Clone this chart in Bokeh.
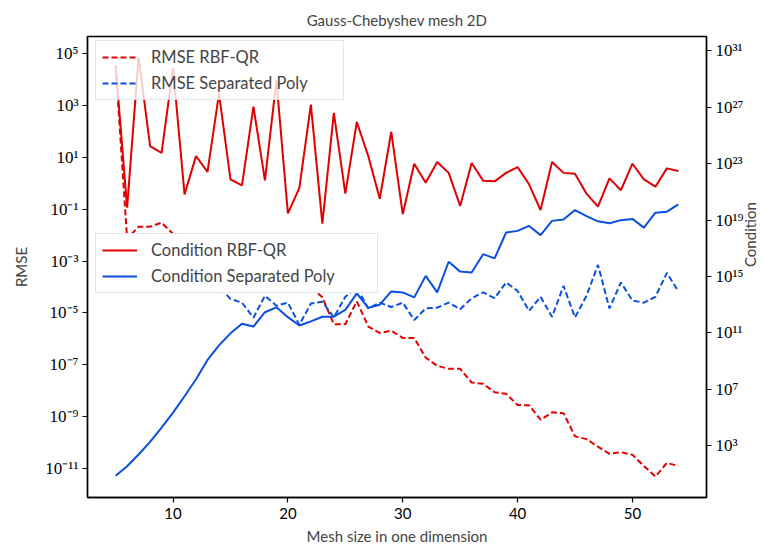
import math
from bokeh.plotting import figure
from bokeh.models import (Range1d, LogScale, LogAxis, FixedTicker,
                          CustomJSTickFormatter, Legend, LegendItem)
from bokeh.embed import file_html
from bokeh.resources import INLINE

# ---------------- data ----------------
mesh_size = list(range(5, 55))

rmse_rbf_qr = [3.3e4, 7.1e-3, 2.1e-2, 2.1e-2, 3.0e-2, 1.1e-2, 4.0e-3, 1.8e-3, 1.3e-3, 6.3e-4,
               4.5e-4, 2.5e-4, 3.2e-4, 1.6e-4, 1.3e-4, 1.4e-4, 7.9e-5, 1.0e-4, 4.0e-5, 3.7e-6,
               3.7e-6, 2.8e-5, 3.0e-6, 1.7e-6, 2.1e-6, 1.1e-6, 1.1e-6, 1.9e-7, 9.3e-8, 7.1e-8,
               7.1e-8, 2.1e-8, 1.9e-8, 8.9e-9, 7.8e-9, 2.9e-9, 2.8e-9, 7.8e-10, 1.5e-9, 1.4e-9,
               1.8e-10, 1.4e-10, 7.2e-11, 3.8e-11, 4.4e-11, 3.5e-11, 1.3e-11, 5.1e-12, 1.7e-11, 1.3e-11]

rmse_sep_poly = [1.0e-3, 5.0e-4, 3.2e-4, 4.0e-4, 2.0e-4, 2.5e-4, 1.3e-4, 1.6e-4, 7.9e-5, 1.0e-4,
                 3.5e-5, 2.5e-5, 6.6e-6, 4.6e-5, 1.9e-5, 2.5e-5, 3.5e-6, 2.3e-5, 2.7e-5, 6.8e-6,
                 4.2e-5, 9.5e-5, 1.5e-5, 2.5e-5, 1.7e-5, 2.5e-5, 5.4e-6, 1.5e-5, 1.6e-5, 2.5e-5,
                 1.4e-5, 3.7e-5, 6.2e-5, 3.7e-5, 1.5e-4, 7.1e-5, 1.2e-5, 4.2e-5, 7.1e-6, 1.1e-4,
                 6.8e-6, 4.6e-5, 7.1e-4, 1.5e-5, 1.5e-4, 3.0e-5, 2.5e-5, 4.2e-5, 3.5e-4, 6.8e-5]

cond_rbf_qr = [8.7e29, 7.6e19, 3.5e30, 1.7e24, 5.8e23, 5.9e29, 6.6e20, 3.4e23, 2.6e22, 9.1e27,
               7.6e21, 2.9e21, 1.1e27, 6.5e21, 7.9e28, 3.0e19, 1.9e21, 1.5e27, 5.6e18, 3.9e26,
               7.4e20, 8.9e25, 3.4e23, 3.2e20, 1.8e25, 2.6e19, 9.8e22, 4.4e21, 1.3e23, 2.2e22,
               1.0e20, 1.1e23, 6.2e21, 5.5e21, 2.2e22, 5.6e22, 3.4e21, 5.1e19, 1.3e23, 2.2e22,
               1.9e22, 7.4e20, 8.9e19, 8.9e21, 1.3e21, 9.8e22, 7.6e21, 2.3e21, 4.6e22, 3.0e22]

cond_sep_poly = [7.4, 35, 240, 1.9e3, 1.9e4, 2.2e5, 3.2e6, 5.2e7, 1.2e9, 1.3e10,
                 9.3e10, 4.4e11, 2.8e11, 2.9e12, 6.5e12, 1.3e12, 3.3e11, 6.6e11, 1.4e12, 1.4e12,
                 4.3e12, 6.3e13, 5.9e12, 1.0e13, 8.7e13, 7.4e13, 3.3e13, 1.1e15, 7.4e13, 1.1e16,
                 2.2e15, 1.9e15, 3.8e16, 1.9e16, 1.3e18, 1.7e18, 3.8e18, 8.5e17, 8.7e18, 1.1e19,
                 5.1e19, 1.9e19, 8.1e18, 5.9e18, 9.8e18, 1.2e19, 2.9e18, 3.3e19, 3.9e19, 1.3e20]

x_ticks = [10, 20, 30, 40, 50]
rmse_ticks = [1e-11, 1e-9, 1e-7, 1e-5, 1e-3, 1e-1, 1e1, 1e3, 1e5]
cond_ticks = [1e3, 1e7, 1e11, 1e15, 1e19, 1e23, 1e27, 1e31]

RED = "#e10000"
BLUE = "#0a4fe0"
SANS = "Lato"
SERIF = "Liberation Serif"

sup_js = """
const sup = {'0':'\u2070','1':'\u00b9','2':'\u00b2','3':'\u00b3','4':'\u2074','5':'\u2075',
             '6':'\u2076','7':'\u2077','8':'\u2078','9':'\u2079','-':'\u207b'};
const e = Math.round(Math.log10(tick));
return '10' + String(e).split('').map(c => sup[c]).join('');
"""

p = figure(width=772, height=549, output_backend="svg", toolbar_location=None,
           x_range=Range1d(2.55, 56.45),
           y_range=Range1d(10 ** -12.10, 10 ** 5.64), y_axis_type="log",
           min_border_left=87, min_border_right=66, min_border_top=35, min_border_bottom=52)

p.title.text = "Gauss-Chebyshev mesh 2D"
p.title.align = "center"
p.title.text_font = SANS
p.title.text_font_size = "15px"
p.title.text_font_style = "normal"
p.title.standoff = 16

p.extra_y_ranges = {"cond": Range1d(10 ** -0.67, 10 ** 32.01)}
p.extra_y_scales = {"cond": LogScale()}

p.xgrid.visible = False
p.ygrid.visible = False
p.outline_line_color = "black"
p.outline_line_width = 1.4
p.outline_line_alpha = 1.0

xa = p.xaxis[0]
xa.ticker = FixedTicker(ticks=x_ticks)
xa.axis_label = "Mesh size in one dimension"

ya = p.yaxis[0]
ya.ticker = FixedTicker(ticks=rmse_ticks)
ya.formatter = CustomJSTickFormatter(code=sup_js)
ya.axis_label = "RMSE"

ra = LogAxis(y_range_name="cond", ticker=FixedTicker(ticks=cond_ticks),
             formatter=CustomJSTickFormatter(code=sup_js), axis_label="Condition")
p.add_layout(ra, "right")

for ax in (xa, ya, ra):
    ax.axis_line_color = "black"
    ax.axis_line_width = 1.4
    ax.major_tick_line_color = "black"
    ax.major_tick_line_width = 1.2
    ax.major_tick_out = 5
    ax.major_tick_in = 0
    ax.minor_tick_line_color = None
    ax.axis_label_text_font = SANS
    ax.axis_label_text_font_style = "normal"
    ax.axis_label_text_font_size = "15px"
    ax.major_label_text_color = "black"
xa.major_label_text_font = SANS
xa.major_label_text_font_size = "15px"
xa.axis_label_standoff = 5
for ax in (ya, ra):
    ax.major_label_text_font = SERIF
    ax.major_label_text_font_size = "17px"
    ax.major_label_standoff = 4
ya.axis_label_standoff = 12
ra.axis_label_standoff = 3
ra.axis_label_orientation = math.pi / 2

r_rmse_qr = p.line(mesh_size, rmse_rbf_qr, color=RED, line_width=2, line_dash="6 3")
r_rmse_sp = p.line(mesh_size, rmse_sep_poly, color=BLUE, line_width=2, line_dash="6 3")
r_cond_qr = p.line(mesh_size, cond_rbf_qr, color=RED, line_width=2, y_range_name="cond")
r_cond_sp = p.line(mesh_size, cond_sep_poly, color=BLUE, line_width=2, y_range_name="cond")
# condition curves of the twin axis are drawn over the first legend, as in the original
r_cond_qr.level = "overlay"


def make_legend(items, loc, alpha, label_w):
    leg = Legend(items=items, location=loc)
    leg.label_text_font = SANS
    leg.label_text_font_size = "16.5px"
    leg.glyph_width = 35
    leg.glyph_height = 20
    leg.label_height = 20
    leg.label_width = label_w
    leg.label_standoff = 14
    leg.spacing = 6
    leg.padding = 6
    leg.margin = 0
    leg.border_line_color = "#cccccc"
    leg.border_line_width = 1
    leg.background_fill_color = "white"
    leg.background_fill_alpha = alpha
    return leg


leg1 = make_legend([LegendItem(label="RMSE RBF-QR", renderers=[r_rmse_qr]),
                    LegendItem(label="RMSE Separated Poly", renderers=[r_rmse_sp])], (8, 397), 0.8, 186)
leg2 = make_legend([LegendItem(label="Condition RBF-QR", renderers=[r_cond_qr]),
                    LegendItem(label="Condition Separated Poly", renderers=[r_cond_sp])], (8, 204), 1.0, 220)
p.add_layout(leg1)
p.add_layout(leg2)

open("out.html", "w").write(file_html(p, INLINE))
